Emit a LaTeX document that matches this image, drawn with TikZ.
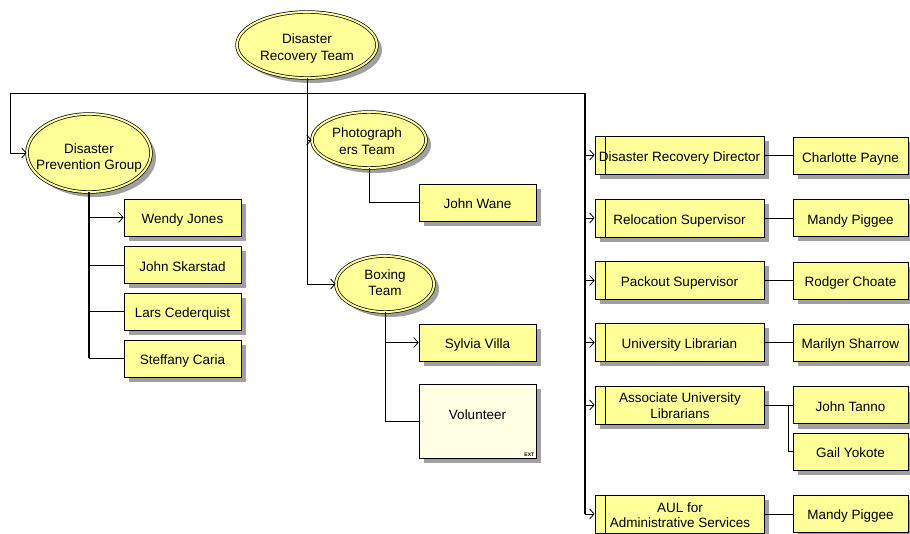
\documentclass[tikz,border=0pt]{standalone}
\usepackage{fontspec}
\setmainfont{Liberation Sans}
\usetikzlibrary{shapes.geometric,shadows,arrows.meta}
\definecolor{boxyellow}{RGB}{255,255,153}
\definecolor{extfill}{RGB}{255,255,228}
\definecolor{shadowgray}{RGB}{160,160,160}
\begin{document}
\begin{tikzpicture}[x=1pt,y=-1pt,
  every node/.style={font=\fontsize{13.5}{16}\selectfont, align=center, inner sep=0pt},
  one/.style={text height=12.7pt, text depth=0pt},
  shade/.style={drop shadow={shadow xshift=5pt, shadow yshift=-5pt, fill=shadowgray, opacity=1}},
  oval/.style={ellipse, draw, line width=0.7pt, double=boxyellow, double distance=2pt, fill=boxyellow, shade},
  pbox/.style={rectangle, draw, line width=0.7pt, fill=boxyellow, shade, minimum width=117pt, minimum height=37pt, one},
  rolebox/.style={rectangle, draw, line width=0.7pt, fill=boxyellow, shade, minimum width=169pt, minimum height=38pt, one,
    path picture={\draw[line width=0.7pt] ([xshift=10pt]path picture bounding box.north west) -- ([xshift=10pt]path picture bounding box.south west);}},
  namebox/.style={rectangle, draw, line width=0.7pt, fill=boxyellow, shade, minimum width=115pt, minimum height=37pt, one},
  conn/.style={line width=0.8pt},
  trunk/.style={line width=1.4pt},
  arr/.style={line width=0.8pt, -{Straight Barb[length=4.5pt,width=10pt]}}
]
\useasboundingbox (0,0) rectangle (910,534);

% ellipses
\node[oval, minimum width=140pt, minimum height=66pt] (drt) at (307,45) {};
\node[font=\fontsize{13.5}{17}\selectfont] (drtt) at (307,49) {Disaster\\Recovery Team};
\node[oval, minimum width=124pt, minimum height=78pt] (dpg) at (89,153) {};
\node (dpgt) at (89,158) {Disaster\\Prevention Group};
\node[oval, minimum width=114pt, minimum height=56pt] (pho) at (369,140) {};
\node[font=\fontsize{13.5}{17}\selectfont] (phot) at (367,141.5) {Photograph\\ers Team};
\node[oval, minimum width=98pt, minimum height=56pt] (bxt) at (385,284) {};
\node (bxtt) at (385,282.5) {Boxing\\Team};

% left people
\node[pbox] (w1) at (182.5,217.5) {Wendy Jones};
\node[pbox] (w2) at (182.5,265) {John Skarstad};
\node[pbox] (w3) at (182.5,311.5) {Lars Cederquist};
\node[pbox] (w4) at (182.5,358.5) {Steffany Caria};

% middle people
\node[pbox] (jw) at (477.5,202.5) {John Wane};
\node[pbox] (syl) at (477.5,342.5) {Sylvia Villa};
\node[rectangle, draw, line width=0.7pt, fill=extfill, shade, minimum width=117pt, minimum height=74pt] (vol) at (477.5,421) {};
\node[one] (voltext) at ([yshift=7.5pt]vol.center) {Volunteer};
\node[font=\fontsize{5}{5}\selectfont\bfseries, anchor=south east] (ext) at ([xshift=-2pt,yshift=2pt]vol.south east) {EXT};

% right roles
\node[rolebox] (r1) at (679.5,155) {Disaster Recovery Director};
\node[rolebox] (r2) at (679.5,218) {Relocation Supervisor};
\node[rolebox] (r3) at (679.5,280.5) {Packout Supervisor};
\node[rolebox] (r4) at (679.5,342.5) {University Librarian};
\node[rolebox] (r5) at (679.5,405) {};
\node[font=\fontsize{13.5}{15.5}\selectfont] (r5t) at (680,405.5) {Associate University\\Librarians};
\node[rolebox] (r6) at (679.5,514) {};
\node[font=\fontsize{13.5}{15.5}\selectfont] (r6t) at (680,515) {AUL for\\Administrative Services};

% right names
\node[namebox] (n1) at (850.5,156) {Charlotte Payne};
\node[namebox] (n2) at (850.5,218) {Mandy Piggee};
\node[namebox] (n3) at (850.5,280.5) {Rodger Choate};
\node[namebox] (n4) at (850.5,342.5) {Marilyn Sharrow};
\node[namebox] (n5) at (850.5,405) {John Tanno};
\node[namebox] (n6) at (850.5,451.5) {Gail Yokote};
\node[namebox] (n7) at (850.5,513.5) {Mandy Piggee};

% bus
\coordinate (busL) at (10,93);
\coordinate (j0) at (307,93);
\coordinate (busR) at (585,93);
\coordinate (k5) at (788,405);

\draw[conn] (drt.south) -- (j0);
\draw[conn] (busL) -- (busR);

% left branch
\draw[arr] (busL) |- (dpg.west);
\draw[trunk] (dpg.south) -- (dpg.south |- w4.west);
\draw[arr] (dpg.south) |- (w1.west);
\draw[conn] (dpg.south) |- (w2.west);
\draw[conn] (dpg.south) |- (w3.west);
\draw[conn] (dpg.south) |- (w4.west);

% middle branch
\draw[arr] (j0) |- (pho.west);
\draw[arr] (j0) |- (bxt.west);
\draw[conn] (pho.south) |- (jw.west);
\draw[arr] (bxt.south) |- (syl.west);
\draw[conn] (bxt.south) |- (vol.west);

% right branch
\draw[trunk] (busR) -- (busR |- r6.west);
\draw[arr] (busR) |- (r1.west);
\draw[arr] (busR) |- (r2.west);
\draw[arr] (busR) |- (r3.west);
\draw[arr] (busR) |- (r4.west);
\draw[arr] (busR) |- (r5.west);
\draw[arr] (busR) |- (r6.west);

\draw[conn] (r1.east) -- (r1.east -| n1.west);
\draw[conn] (r2.east) -- (n2.west);
\draw[conn] (r3.east) -- (n3.west);
\draw[conn] (r4.east) -- (n4.west);
\draw[conn] (r5.east) -- (n5.west);
\draw[conn] (r5.east) -- (k5) |- (n6.west);
\draw[conn] (r6.east) -- (r6.east -| n7.west);
\end{tikzpicture}
\end{document}
